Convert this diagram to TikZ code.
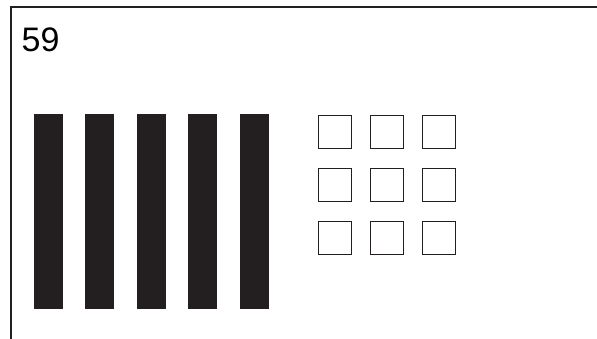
\documentclass[tikz,border=0pt]{standalone}
\usepackage{fontspec}
\setmainfont{Liberation Sans}
\usetikzlibrary{positioning}
\definecolor{BarInk}{HTML}{231F20}

\begin{document}
\begin{tikzpicture}[x=1pt,y=-1pt,node distance=22pt]
  \tikzstyle{barbox}=[fill=BarInk,inner sep=0pt,
    minimum width=29pt,minimum height=195pt]
  \tikzstyle{unitbox}=[draw=BarInk,line width=1pt,inner sep=0pt,
    minimum size=33pt]
  \useasboundingbox (0,0) rectangle (597,339);
  \draw[line width=1.5pt,color=BarInk] (11,339) -- (11,7) -- (597,7);
  \node[anchor=base west,inner sep=0pt,font=\fontsize{34}{34}\selectfont] (num) at (21.5,51.5) {59};
  % five tens
  \node[barbox] (t1) at (48.5,211.5) {};
  \node[barbox,right=of t1] (t2) {};
  \node[barbox,right=of t2] (t3) {};
  \node[barbox,right=of t3] (t4) {};
  \node[barbox,right=of t4] (t5) {};
  % nine ones
  \node[unitbox] (u1) at (334.5,132.2) {};
  \node[unitbox,right=18pt of u1] (u2) {};
  \node[unitbox,right=18pt of u2] (u3) {};
  \node[unitbox,below=19pt of u1] (u4) {};
  \node[unitbox,right=18pt of u4] (u5) {};
  \node[unitbox,right=18pt of u5] (u6) {};
  \node[unitbox,below=19pt of u4] (u7) {};
  \node[unitbox,right=18pt of u7] (u8) {};
  \node[unitbox,right=18pt of u8] (u9) {};
\end{tikzpicture}
\end{document}
